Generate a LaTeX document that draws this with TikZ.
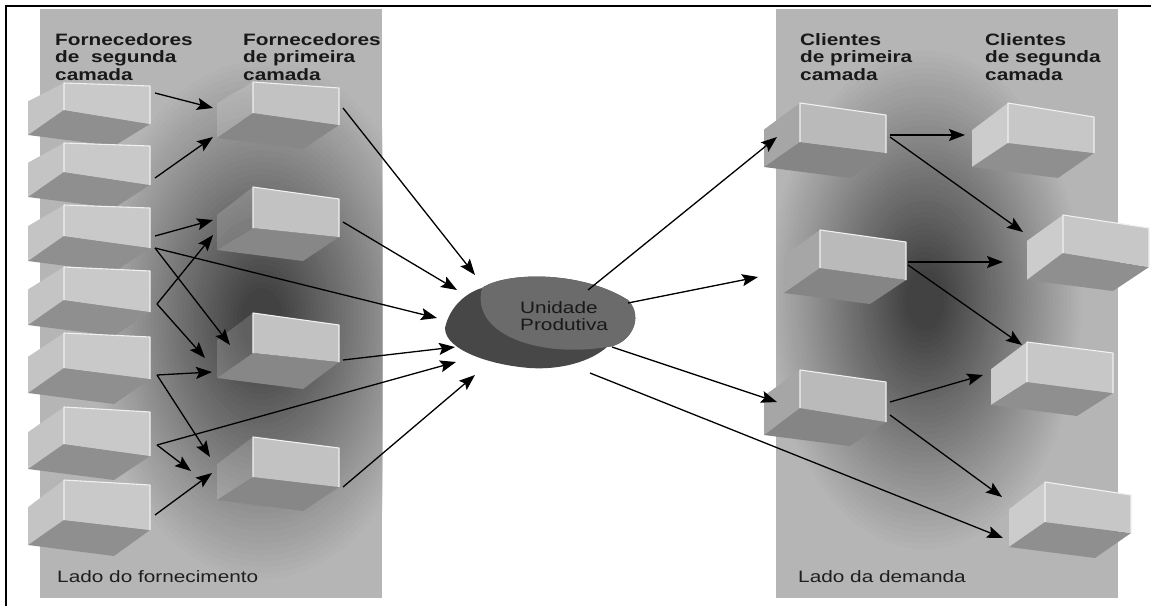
\documentclass[tikz,border=0pt]{standalone}
\usepackage{fontspec}
\setmainfont{Liberation Sans}[FakeStretch=1.26]
\usetikzlibrary{arrows.meta}
\definecolor{panel}{gray}{0.71}
\definecolor{dk}{gray}{0.26}
\tikzset{
  arr/.style={-{Stealth[length=16pt,width=12pt,inset=3pt]}, line width=1.3pt, black},
  hdr/.style={anchor=base west, align=left, inner sep=0pt, text=black!90,
    font=\bfseries\fontsize{16.5}{17.5}\selectfont},
  ftr/.style={anchor=base west, inner sep=0pt, text=black!88,
    font=\fontsize{16.5}{17.5}\selectfont},
  hlt/.style={draw=gray!12, line width=1.1pt, line join=round},
  cfL/.style={fill=black!21}, clL/.style={fill=black!23}, cbL/.style={fill=black!44},
  cfM/.style={fill=black!24}, clM/.style={fill=white, fill opacity=0.16}, cbM/.style={fill=black!47},
  cfR/.style={fill=black!27}, clR/.style={fill=black!35}, cbR/.style={fill=black!48},
  cfS/.style={fill=black!22}, clS/.style={fill=black!20}, cbS/.style={fill=black!44},
}
% #1 x, #2 y, #3 drop of top edge, #4 front height left, #5 front height right, #6 depth, #7 set
\newcommand\mycube[7]{%
  \begin{scope}[shift={(#1,#2)}]
    \fill[cl#7] (-36,{0.68*#4}) -- (0,0) -- (0,#4) -- (-36,#4+#6) -- cycle;
    \fill[cb#7] (0,#4) -- (86,#3+#5) -- (50,#4+#6+11) -- (-36,#4+#6) -- cycle;
    \fill[cf#7] (0,0) -- (86,#3) -- (86,#3+#5) -- (0,#4) -- cycle;
    \draw[hlt] (0,#4) -- (0,0) -- (86,#3) -- (86,#3+#5);
  \end{scope}}
% soft dark spot: #1 cx, #2 cy, #3 rx, #4 ry
\newcommand\darkspot[4]{%
  \foreach \i in {0,...,39}{%
    \pgfmathsetmacro\tt{\i/39}%
    \pgfmathsetmacro\pc{100*\tt}%
    \pgfmathsetmacro\sx{#3*(1-0.88*\tt)}%
    \pgfmathsetmacro\sy{#4*(1-0.88*\tt)}%
    \fill[dk!\pc!panel] (#1,#2) ellipse [x radius=\sx pt, y radius=\sy pt];
  }}
\begin{document}
\begin{tikzpicture}[x=1pt,y=-1pt]
\useasboundingbox (0,0) rectangle (1151,606);
\fill[white] (0,0) rectangle (1151,606);
% frame
\draw[line width=2.4pt] (6,606) -- (6,6) -- (1151,6);
% panels
\begin{scope}
  \clip (40,9) rectangle (382,598);
  \fill[panel] (40,9) rectangle (382,598);
  \darkspot{262}{320}{175}{265}
\end{scope}
\begin{scope}
  \clip (776,9) rectangle (1118,598);
  \fill[panel] (776,9) rectangle (1118,598);
  \darkspot{925}{300}{160}{255}
\end{scope}
% boxes: second-tier suppliers
\mycube{64}{83}{3}{27}{38}{25}{L}
\mycube{64}{143}{3}{29}{39}{25}{L}
\mycube{64}{205}{3}{31}{40}{25}{L}
\mycube{64}{267}{4}{33}{41}{25}{L}
\mycube{64}{333}{4}{35}{42}{25}{L}
\mycube{64}{407}{5}{37}{44}{25}{L}
\mycube{64}{480}{5}{40}{45}{25}{L}
% first-tier suppliers
\mycube{253}{82}{6}{31}{37}{25}{M}
\mycube{253}{187}{12}{41}{38}{22}{M}
\mycube{253}{313}{12}{40}{37}{25}{M}
\mycube{253}{437}{11}{40}{39}{23}{M}
% first-tier clients
\mycube{800}{103}{12}{39}{38}{25}{R}
\mycube{820}{230}{12}{38}{38}{25}{R}
\mycube{800}{370}{12}{38}{40}{27}{R}
% second-tier clients
\mycube{1008}{103}{14}{40}{36}{24}{S}
\mycube{1063}{215}{13}{38}{39}{27}{S}
\mycube{1027}{342}{11}{40}{40}{23}{S}
\mycube{1045}{482}{13}{40}{38}{25}{S}
% central unit
\fill[black!72] (445,328) .. controls (450,305) and (468,292) .. (482,288)
  .. controls (505,272) and (580,270) .. (628,300)
  .. controls (645,318) and (630,345) .. (607,347)
  .. controls (590,362) and (560,370) .. (530,368)
  .. controls (490,365) and (445,350) .. (445,328) -- cycle;
\fill[black!58] (482,288) .. controls (505,272) and (580,270) .. (628,300)
  .. controls (645,318) and (630,345) .. (607,347)
  .. controls (540,358) and (470,335) .. (482,288) -- cycle;
\node[anchor=base west, align=left, inner sep=0pt, text=black!90,
  font=\fontsize{16.5}{17}\selectfont] (unit) at (520,330) {Unidade\\Produtiva};
% texts
\node[hdr] (h1) at (55,80) {Fornecedores\\de\ \ segunda\\camada};
\node[hdr] (h2) at (243,80) {Fornecedores\\de primeira\\camada};
\node[hdr] (h3) at (800,80) {Clientes\\de primeira\\camada};
\node[hdr] (h4) at (985,80) {Clientes\\de segunda\\camada};
\node[ftr] (f1) at (57,582) {Lado do fornecimento};
\node[ftr] (f2) at (798,582) {Lado da demanda};
% connection points
\coordinate (L1) at (155,93);  \coordinate (L2) at (155,178);
\coordinate (L3a) at (155,236); \coordinate (L3b) at (155,248);
\coordinate (L4) at (157,304); \coordinate (L5) at (157,375);
\coordinate (L6) at (157,445); \coordinate (L7) at (155,515);
\coordinate (A1) at (213,108); \coordinate (A2) at (213,137); \coordinate (Ao) at (343,108);
\coordinate (B1) at (213,220); \coordinate (B2) at (213,235); \coordinate (Bo) at (343,222);
\coordinate (C1) at (230,345); \coordinate (C2) at (205,358); \coordinate (C3) at (212,372); \coordinate (Co) at (343,360);
\coordinate (D1) at (210,457); \coordinate (D2) at (191,471); \coordinate (D3) at (212,473); \coordinate (Do) at (343,487);
\coordinate (U1) at (475,275); \coordinate (U2) at (457,290); \coordinate (U3) at (437,318);
\coordinate (U4) at (455,347); \coordinate (U5) at (456,362); \coordinate (U6) at (475,375);
\coordinate (V1) at (588,290); \coordinate (V2) at (628,303); \coordinate (V3) at (612,347); \coordinate (V4) at (590,373);
\coordinate (R1i) at (777,137); \coordinate (R2i) at (758,277); \coordinate (R3i) at (777,402);
\coordinate (R1o) at (890,135); \coordinate (R1p) at (890,137);
\coordinate (R2o) at (908,262); \coordinate (R2p) at (908,265);
\coordinate (R3o) at (890,402); \coordinate (R3p) at (890,415);
\coordinate (S1i) at (965,135); \coordinate (S2i) at (1023,232); \coordinate (S2j) at (1003,262);
\coordinate (S3i) at (1022,345); \coordinate (S3j) at (983,375);
\coordinate (S4i) at (1002,497); \coordinate (S4j) at (1003,538);
% arrows left
\draw[arr] (L1) -- (A1);
\draw[arr] (L2) -- (A2);
\draw[arr] (L3a) -- (B1);
\draw[arr] (L4) -- (B2);
\draw[arr] (L3b) -- (C1);
\draw[arr] (L4) -- (C2);
\draw[arr] (L3b) -- (U3);
\draw[arr] (L5) -- (C3);
\draw[arr] (L5) -- (D1);
\draw[arr] (L6) -- (U5);
\draw[arr] (L6) -- (D2);
\draw[arr] (L7) -- (D3);
\draw[arr] (Ao) -- (U1);
\draw[arr] (Bo) -- (U2);
\draw[arr] (Co) -- (U4);
\draw[arr] (Do) -- (U6);
% arrows right
\draw[arr] (V1) -- (R1i);
\draw[arr] (V2) -- (R2i);
\draw[arr] (V3) -- (R3i);
\draw[arr] (V4) -- (S4j);
\draw[arr] (R1o) -- (S1i);
\draw[arr] (R1p) -- (S2i);
\draw[arr] (R2o) -- (S2j);
\draw[arr] (R2p) -- (S3i);
\draw[arr] (R3o) -- (S3j);
\draw[arr] (R3p) -- (S4i);
\end{tikzpicture}
\end{document}
